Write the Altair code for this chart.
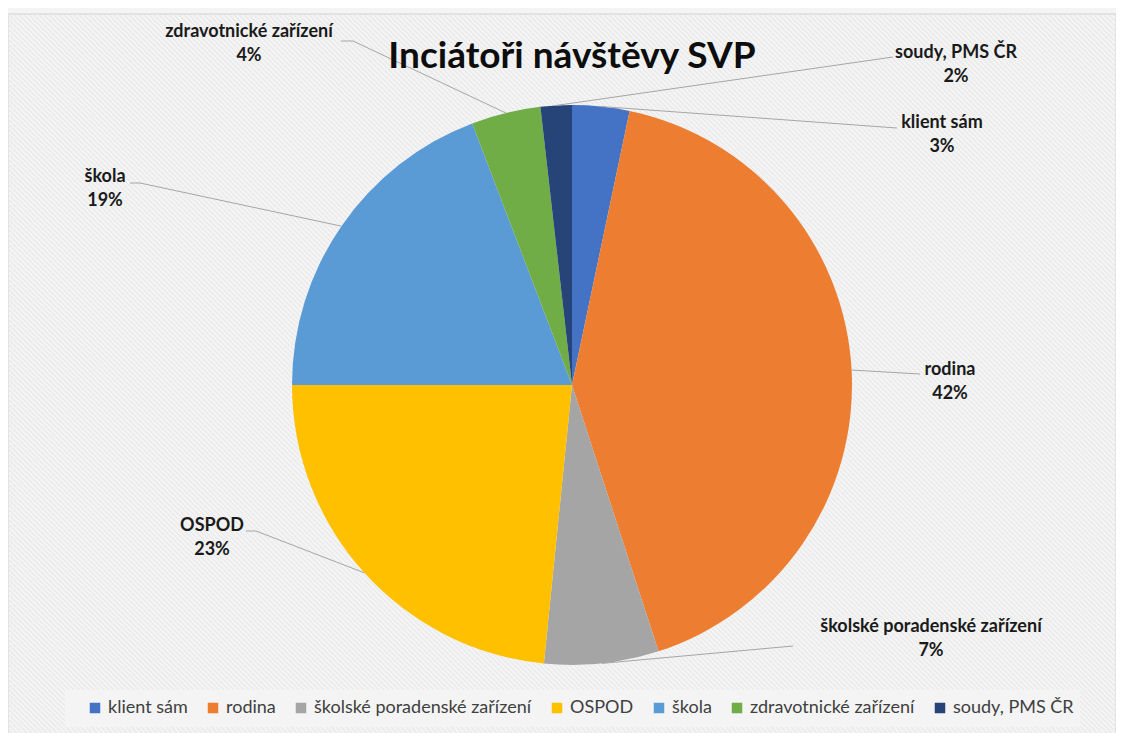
import altair as alt
import numpy as np
import pandas as pd

# ---- data ----
title_text = "Inciátoři návštěvy SVP"
categories = ["klient sám", "rodina", "školské poradenské zařízení", "OSPOD",
              "škola", "zdravotnické zařízení", "soudy, PMS ČR"]
values = [3.3, 41.7, 6.6, 23.4, 19.2, 4.0, 1.8]
pct_labels = ["3%", "42%", "7%", "23%", "19%", "4%", "2%"]
colors = ["#4472C4", "#ED7D31", "#A5A5A5", "#FFC000", "#5B9BD5", "#70AD47", "#264478"]

# ---- layout (view pixel coordinates) ----
W, H = 1108, 725
CX, CY, R = 564, 377, 280
label_x = [934, 942, 923, 204, 97, 241, 948]
label_y = [115, 362, 619, 518, 169, 24, 45]
# leader line outer points (label end, optional elbow)
leader_outer = [
    [(889, 120)],
    [(912, 366)],
    [(785, 638)],
    [(238, 523), (248, 523)],
    [(122, 175), (132, 175)],
    [(333, 33), (345, 33)],
    [(885, 49)],
]

df = pd.DataFrame({"category": categories, "value": values,
                   "order": list(range(len(categories)))})

# pie edge points at slice mid angles (derived from data)
cum = np.cumsum(values) - np.array(values) / 2
ang = cum / np.sum(values) * 2 * np.pi
edge_x = CX + R * np.sin(ang)
edge_y = CY - R * np.cos(ang)

rows = []
for i, c in enumerate(categories):
    pts = leader_outer[i] + [(edge_x[i], edge_y[i])]
    for j, (px, py) in enumerate(pts):
        rows.append({"category": c, "seq": j, "x": px, "y": py})
lines_df = pd.DataFrame(rows)

lab_df = pd.DataFrame({"category": categories, "pct": pct_labels,
                       "x": label_x, "y": label_y,
                       "y2": [v + 24 for v in label_y]})

# background stripes
stripes = []
top = 6
step = 5
for x0 in np.arange(-H, W, step):
    xa = max(x0, 0.0)
    xb = min(x0 + (H - top), W)
    if xb <= xa:
        continue
    stripes.append({"x": xa, "y": top + (xa - x0), "x2": xb, "y2": top + (xb - x0)})
stripes_df = pd.DataFrame(stripes)

xs = alt.Scale(domain=[0, W], nice=False, zero=False)
ys = alt.Scale(domain=[0, H], nice=False, zero=False, reverse=True)

bg = alt.Chart(pd.DataFrame({"x": [0], "x2": [W], "y": [top], "y2": [H + 20]})).mark_rect(
    fill="white", stroke="#d9d9d9", strokeWidth=1
).encode(x=alt.X("x:Q", scale=xs, axis=None), x2="x2:Q",
         y=alt.Y("y:Q", scale=ys, axis=None), y2="y2:Q")

stripe_layer = alt.Chart(stripes_df).mark_rule(color="#f3f3f3", strokeWidth=1.1).encode(
    x=alt.X("x:Q", scale=xs, axis=None), x2="x2:Q",
    y=alt.Y("y:Q", scale=ys, axis=None), y2="y2:Q")

legend_box = alt.Chart(pd.DataFrame({"x": [57], "x2": [1072], "y": [682], "y2": [719]})).mark_rect(
    fill="white", opacity=1
).encode(x=alt.X("x:Q", scale=xs, axis=None), x2="x2:Q",
         y=alt.Y("y:Q", scale=ys, axis=None), y2="y2:Q")

shadow = alt.Chart(pd.DataFrame({"r": [291, 288, 285, 282]})).mark_arc(
    color="black", opacity=0.045
).encode(theta=alt.value(2 * np.pi), radius=alt.Radius("r:Q", scale=None),
         x=alt.value(CX - 1), y=alt.value(CY + 2))

pie = alt.Chart(df).mark_arc(outerRadius=R).encode(
    theta=alt.Theta("value:Q", stack=True),
    order=alt.Order("order:Q"),
    color=alt.Color("category:N", sort=categories,
                    scale=alt.Scale(domain=categories, range=colors),
                    legend=alt.Legend(orient="none", legendX=78, legendY=691,
                                      direction="horizontal", columns=7, title=None,
                                      symbolType="square", symbolSize=110,
                                      symbolStrokeWidth=0, labelFont="Lato",
                                      labelFontSize=18, labelColor="#404040",
                                      labelLimit=0,
                                      columnPadding=16, labelOffset=4)),
    x=alt.value(CX), y=alt.value(CY),
)

leaders = alt.Chart(lines_df).mark_line(color="#a6a6a6", strokeWidth=1).encode(
    x=alt.X("x:Q", scale=xs, axis=None), y=alt.Y("y:Q", scale=ys, axis=None),
    detail="category:N", order="seq:Q")

names = alt.Chart(lab_df).mark_text(font="Lato", fontSize=18, fontWeight="bold",
                                    color="#1a1a1a").encode(
    x=alt.X("x:Q", scale=xs, axis=None), y=alt.Y("y:Q", scale=ys, axis=None),
    text="category:N")
pcts = alt.Chart(lab_df).mark_text(font="Lato", fontSize=18, fontWeight="bold",
                                   color="#1a1a1a").encode(
    x=alt.X("x:Q", scale=xs, axis=None), y=alt.Y("y2:Q", scale=ys, axis=None),
    text="pct:N")

title = alt.Chart(pd.DataFrame({"t": [title_text]})).mark_text(
    font="Lato", fontSize=37, fontWeight="bold", color="#0d0d0d"
).encode(x=alt.value(CX), y=alt.value(49), text="t:N")

chart = alt.layer(bg, stripe_layer, legend_box, shadow, pie, leaders, names, pcts, title).properties(
    width=W, height=H, padding=0, autosize="none"
).configure_view(stroke=None)

chart.save("out.html", embed_options={"renderer": "svg", "actions": False})
